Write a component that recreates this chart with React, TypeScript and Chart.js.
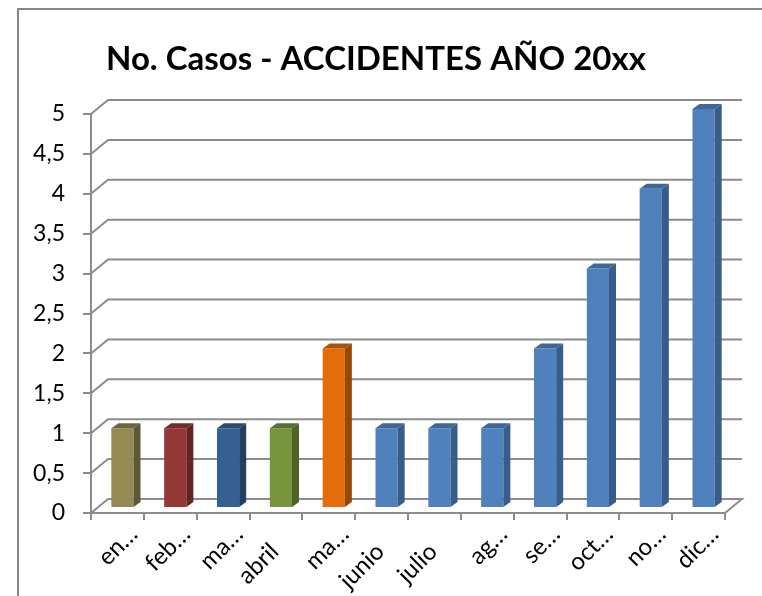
import React, { useEffect, useRef } from 'react';
import { Chart, registerables } from 'chart.js';

Chart.register(...registerables);

// ---- data ----
const months = ['enero', 'febrero', 'marzo', 'abril', 'mayo', 'junio', 'julio', 'agosto', 'septiembre', 'octubre', 'noviembre', 'diciembre'];
const monthTickLabels = ['en…', 'feb…', 'ma…', 'abril', 'ma…', 'junio', 'julio', 'ag…', 'se…', 'oct…', 'no…', 'dic…'];
const cases = [1, 1, 1, 1, 2, 1, 1, 1, 2, 3, 4, 5];
const titleText = 'No. Casos - ACCIDENTES AÑO 20xx';
const yMin = 0;
const yMax = 5;
const yStep = 0.5;

// ---- styles ----
const frontColors = ['#948A54', '#953735', '#376092', '#77933C', '#E46C0A', '#4F81BD', '#4F81BD', '#4F81BD', '#4F81BD', '#4F81BD', '#4F81BD', '#4F81BD'];
const sideColors = ['#5F5836', '#632523', '#243F60', '#4F6228', '#974806', '#385D8A', '#385D8A', '#385D8A', '#385D8A', '#385D8A', '#385D8A', '#385D8A'];
const topColors = ['#6E6640', '#722B29', '#2A4A70', '#5A6F2E', '#AA5208', '#3F679A', '#3F679A', '#3F679A', '#3F679A', '#3F679A', '#3F679A', '#3F679A'];
const GRID = '#8C8C8C';
const FONT = 'Lato';
const WALL_DX = 17;
const WALL_DY = -14;
const BAR_DX = 5;
const BAR_DY = -5;
const BAR_DEPTH_X = 7;
const BAR_DEPTH_Y = -5;

const threeD = {
  id: 'threeD',
  beforeDraw(chart: any) {
    const { ctx } = chart;
    ctx.save();
    ctx.strokeStyle = '#868686';
    ctx.lineWidth = 2;
    ctx.beginPath();
    ctx.moveTo(18, 700);
    ctx.lineTo(18, 9);
    ctx.lineTo(762, 9);
    ctx.stroke();
    ctx.font = `bold 33px ${FONT}`;
    ctx.fillStyle = '#000';
    ctx.textBaseline = 'alphabetic';
    ctx.textAlign = 'left';
    ctx.fillText(titleText, 106, 70);
    ctx.restore();
  },
  beforeDatasetsDraw(chart: any) {
    const { ctx, chartArea: ca } = chart;
    const y = chart.scales.y;
    ctx.save();
    ctx.strokeStyle = GRID;
    ctx.lineWidth = 2;
    y.ticks.forEach((t: any) => {
      const py = y.getPixelForValue(t.value);
      ctx.beginPath();
      ctx.moveTo(ca.left, py);
      ctx.lineTo(ca.left + WALL_DX, py + WALL_DY);
      ctx.lineTo(ca.right + WALL_DX, py + WALL_DY);
      if (t.value === yMin) ctx.lineTo(ca.right, py);
      ctx.stroke();
    });
    ctx.restore();
    ctx.save();
    ctx.translate(BAR_DX, BAR_DY);
  },
  afterDatasetsDraw(chart: any) {
    const { ctx } = chart;
    const meta = chart.getDatasetMeta(0);
    meta.data.forEach((bar: any, i: number) => {
      const { x, y, base, width } = bar.getProps(['x', 'y', 'base', 'width'], true);
      const l = x - width / 2;
      const r = x + width / 2;
      ctx.fillStyle = sideColors[i];
      ctx.beginPath();
      ctx.moveTo(r, y);
      ctx.lineTo(r + BAR_DEPTH_X, y + BAR_DEPTH_Y);
      ctx.lineTo(r + BAR_DEPTH_X, base + BAR_DEPTH_Y);
      ctx.lineTo(r, base);
      ctx.closePath();
      ctx.fill();
      ctx.fillStyle = topColors[i];
      ctx.beginPath();
      ctx.moveTo(l, y);
      ctx.lineTo(l + BAR_DEPTH_X, y + BAR_DEPTH_Y);
      ctx.lineTo(r + BAR_DEPTH_X, y + BAR_DEPTH_Y);
      ctx.lineTo(r, y);
      ctx.closePath();
      ctx.fill();
    });
    ctx.restore();
  },
};

export default function App() {
  const ref = useRef<HTMLCanvasElement>(null);
  useEffect(() => {
    if (!ref.current) return;
    const chart = new Chart(ref.current, {
      type: 'bar',
      data: {
        labels: months,
        datasets: [
          {
            data: cases,
            backgroundColor: frontColors,
            borderWidth: 0,
            categoryPercentage: 1,
            barPercentage: 0.42,
          },
        ],
      },
      options: {
        animation: false,
        responsive: false,
        devicePixelRatio: 1,
        layout: { padding: { left: 0, top: 114, right: 37, bottom: 0 } },
        plugins: { legend: { display: false }, tooltip: { enabled: false }, title: { display: false } },
        scales: {
          x: {
            grid: { display: true, drawOnChartArea: false, drawTicks: true, tickLength: 7, color: GRID, lineWidth: 2, offset: true },
            border: { display: true, color: GRID, width: 2 },
            ticks: {
              autoSkip: false,
              maxRotation: 45,
              minRotation: 45,
              labelOffset: 16,
              padding: 0,
              color: '#000',
              font: { family: FONT, size: 24 },
              callback: (_v: any, i: number) => {
                const t = monthTickLabels[i];
                return t.endsWith('…') ? t : t + '\u00A0\u00A0\u00A0\u00A0';
              },
            },
            afterFit: (s: any) => {
              s.height = 83;
            },
          },
          y: {
            min: yMin,
            max: yMax,
            grid: { display: true, drawOnChartArea: false, drawTicks: true, tickLength: 8, color: GRID, lineWidth: 2 },
            border: { display: true, color: GRID, width: 2 },
            ticks: {
              stepSize: yStep,
              padding: 18,
              color: '#000',
              font: { family: FONT, size: 23 },
              callback: (v: any) => String(v).replace('.', ','),
            },
            afterFit: (s: any) => {
              s.width = 91;
            },
          },
        },
      },
      plugins: [threeD],
    });
    return () => chart.destroy();
  }, []);
  return (
    <div style={{ position: 'fixed', left: 0, top: 0, width: 762, height: 596, background: '#fff' }}>
      <canvas ref={ref} width={762} height={596} style={{ display: 'block' }} />
    </div>
  );
}
